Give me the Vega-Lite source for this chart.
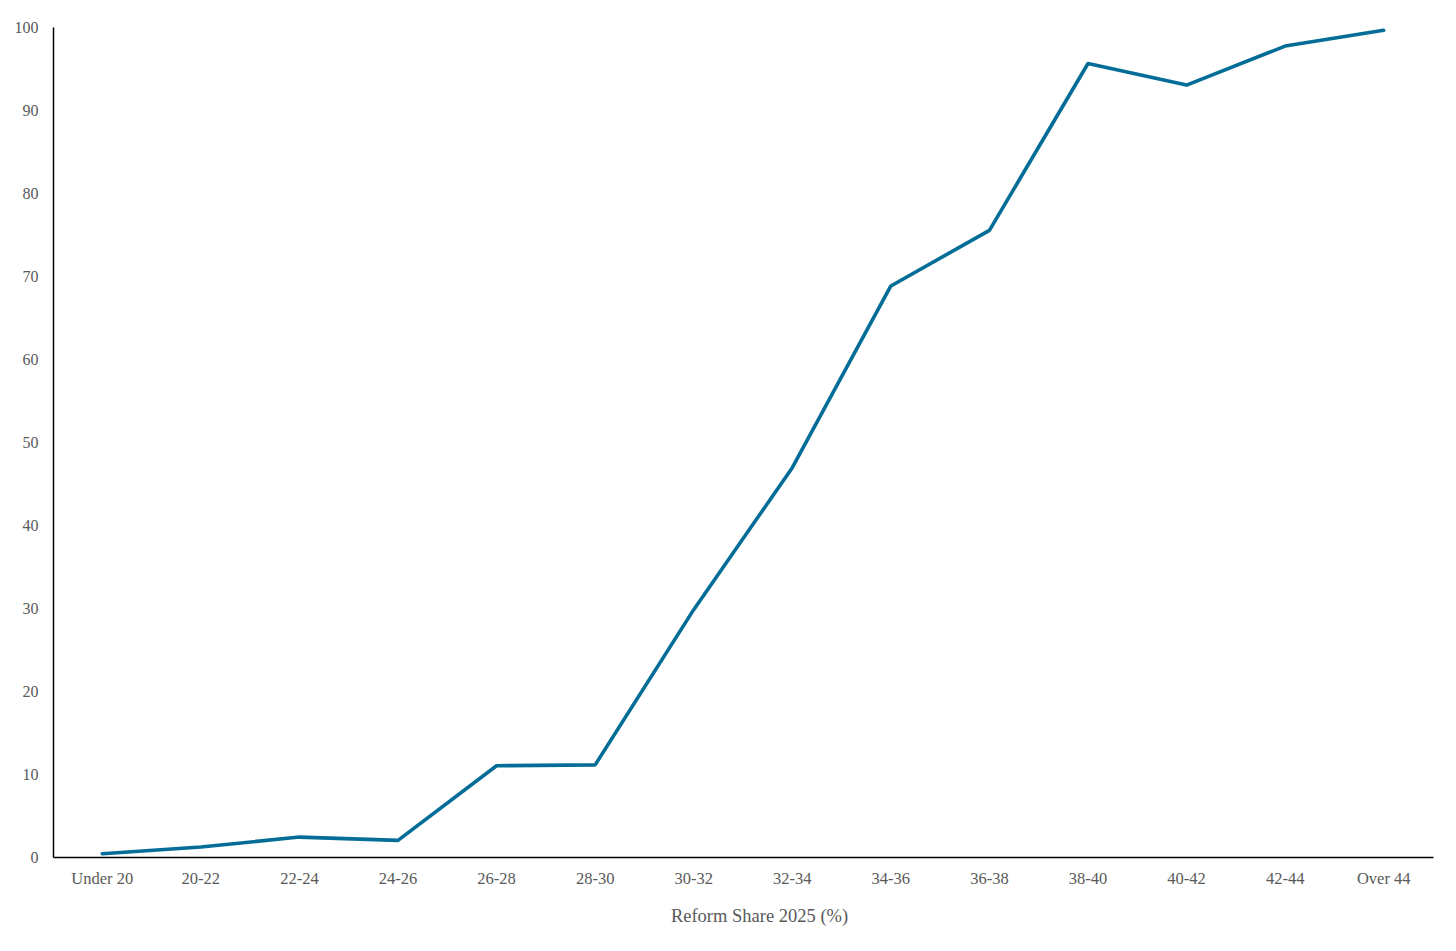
{
  "$schema": "https://vega.github.io/schema/vega-lite/v6.json",
  "width": 1380,
  "height": 830,
  "autosize": {"type": "none"},
  "padding": {"left": 53, "top": 27, "right": 23, "bottom": 94},
  "background": "white",
  "config": {
    "view": {"stroke": null},
    "font": "Liberation Serif"
  },
  "data": {
    "values": [
      {"band": "Under 20", "value": 0.4},
      {"band": "20-22", "value": 1.2},
      {"band": "22-24", "value": 2.4},
      {"band": "24-26", "value": 2.0},
      {"band": "26-28", "value": 11.0},
      {"band": "28-30", "value": 11.1},
      {"band": "30-32", "value": 29.8},
      {"band": "32-34", "value": 46.9},
      {"band": "34-36", "value": 68.8},
      {"band": "36-38", "value": 75.5},
      {"band": "38-40", "value": 95.6},
      {"band": "40-42", "value": 93.0},
      {"band": "42-44", "value": 97.7},
      {"band": "Over 44", "value": 99.6}
    ]
  },
  "mark": {"type": "line", "color": "#036d97", "strokeWidth": 3.6, "strokeCap": "round", "strokeJoin": "round"},
  "encoding": {
    "x": {
      "field": "band",
      "type": "ordinal",
      "sort": null,
      "scale": {"type": "band", "paddingInner": 0, "paddingOuter": 0},
      "axis": {
        "title": "Reform Share 2025 (%)",
        "titleFont": "Liberation Serif",
        "titleFontSize": 18.5,
        "titleFontWeight": "normal",
        "titleColor": "#595959",
        "titlePadding": 20,
        "titleX": 706,
        "titleAlign": "center",
        "labelFont": "Liberation Serif",
        "labelFontSize": 16.5,
        "labelColor": "#595959",
        "labelAngle": 0,
        "labelPadding": 13,
        "ticks": false,
        "grid": false,
        "domainColor": "#000000",
        "domainWidth": 1.5
      }
    },
    "y": {
      "field": "value",
      "type": "quantitative",
      "scale": {"domain": [0, 100], "nice": false},
      "axis": {
        "title": null,
        "values": [0, 10, 20, 30, 40, 50, 60, 70, 80, 90, 100],
        "labelFont": "Liberation Serif",
        "labelFontSize": 16,
        "labelColor": "#595959",
        "labelPadding": 15,
        "ticks": false,
        "grid": false,
        "domainColor": "#000000",
        "domainWidth": 1.5
      }
    }
  }
}
